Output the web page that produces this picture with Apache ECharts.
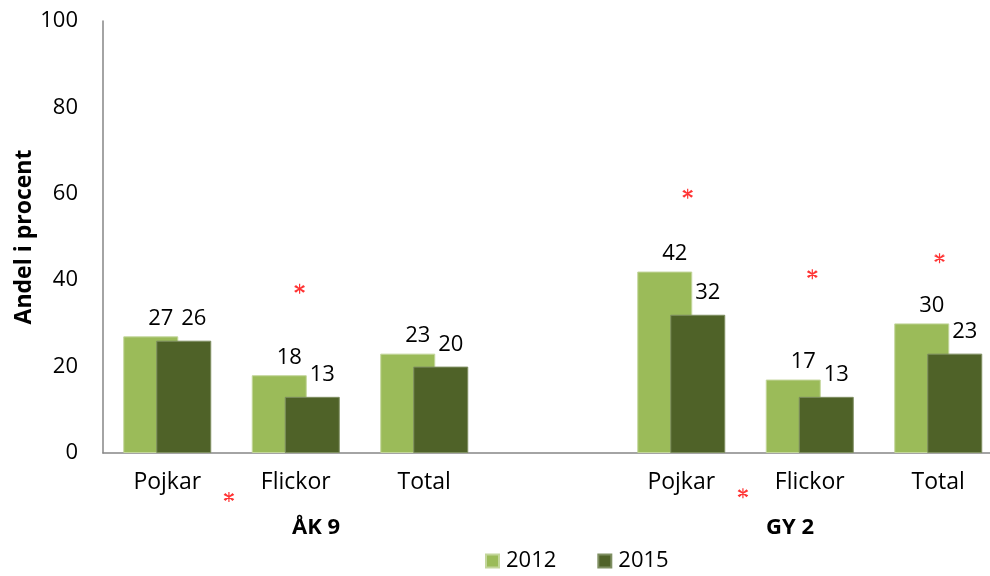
<!DOCTYPE html>
<html>
<head>
<meta charset="utf-8">
<script src="https://cdn.jsdelivr.net/npm/echarts@6/dist/echarts.min.js"></script>
<style>html,body{margin:0;padding:0;background:#fff;}#c{width:990px;height:576px;}</style>
</head>
<body>
<div id="c"></div>
<script>
var categories = ['Pojkar', 'Flickor', 'Total', '', 'Pojkar', 'Flickor', 'Total'];
var groupLabels = ['ÅK 9', 'GY 2'];
var seriesNames = ['2012', '2015'];
var values2012 = [27, 18, 23, null, 42, 17, 30];
var values2015 = [26, 13, 20, null, 32, 13, 23];
var asteriskX = [0.48, 1.03, 4.05, 4.48, 5.02, 6.01];
var asteriskY = [-10.2, 38, 60, -9.3, 41.4, 45.1];
var yTicks = [0, 20, 40, 60, 80, 100];

var FONT = 'Open Sans';
var chart = echarts.init(document.getElementById('c'));
var asteriskData = asteriskX.map(function (x, i) { return [x, asteriskY[i]]; });

chart.setOption({
  animation: false,
  backgroundColor: '#fff',
  textStyle: { fontFamily: FONT },
  grid: { left: 103, top: 21, height: 432, width: 899.5, outerBoundsMode: 'none', containLabel: false },
  legend: {
    data: seriesNames,
    left: 480, top: 545,
    itemWidth: 13, itemHeight: 13, itemGap: 41,
    icon: 'rect',
    textStyle: { fontSize: 22, color: '#000', fontFamily: FONT, padding: [0, 0, 0, 2] }
  },
  xAxis: [{
    type: 'category',
    data: categories,
    axisLine: { lineStyle: { color: '#868686', width: 1.5 } },
    axisTick: { show: false },
    axisLabel: { fontSize: 23, color: '#000', margin: 18, interval: 0 }
  }, {
    type: 'value', min: -0.5, max: 6.5, show: false
  }],
  yAxis: [{
    type: 'value',
    min: yTicks[0], max: yTicks[yTicks.length - 1], interval: 20,
    axisLine: { show: true, onZero: false, lineStyle: { color: '#868686', width: 1.5 } },
    axisTick: { show: false },
    splitLine: { show: false },
    axisLabel: { fontSize: 22, color: '#000', margin: 25 }
  }],
  graphic: [
    { type: 'text', style: { text: groupLabels[0], font: 'bold 22px "Open Sans"', fill: '#000', textAlign: 'center', textVerticalAlign: 'middle', x: 316, y: 528 } },
    { type: 'text', style: { text: groupLabels[1], font: 'bold 22px "Open Sans"', fill: '#000', textAlign: 'center', textVerticalAlign: 'middle', x: 790, y: 528 } },
    { type: 'text', rotation: Math.PI / 2, x: 24, y: 237, style: { text: 'Andel i procent', font: 'bold 23px "Open Sans"', fill: '#000', textAlign: 'center', textVerticalAlign: 'middle', x: 0, y: 0 } }
  ],
  series: [{
    name: seriesNames[0],
    type: 'bar',
    data: values2012,
    barWidth: 55,
    barGap: '-40%',
    itemStyle: { color: '#9BBB59', borderColor: '#C3D69B', borderWidth: 1 },
    label: { show: true, position: 'top', distance: 5, offset: [10, -2], fontSize: 22, color: '#000' }
  }, {
    name: seriesNames[1],
    type: 'bar',
    data: values2015,
    barWidth: 55,
    barGap: '-40%',
    itemStyle: { color: '#4F6228', borderColor: '#7F8F62', borderWidth: 1 },
    label: { show: true, position: 'top', distance: 5, offset: [10, -6], fontSize: 22, color: '#000' }
  }, {
    type: 'scatter',
    xAxisIndex: 1,
    data: asteriskData,
    clip: false,
    symbol: 'path://M0,-5L0,5M-4.33,-2.5L4.33,2.5M-4.33,2.5L4.33,-2.5M-3.5,-3.5L3.5,3.5M-3.5,3.5L3.5,-3.5',
    symbolSize: 10,
    itemStyle: { color: 'none', borderColor: '#FF0000', borderWidth: 1.2 },
    silent: true
  }]
});
</script>
</body>
</html>
